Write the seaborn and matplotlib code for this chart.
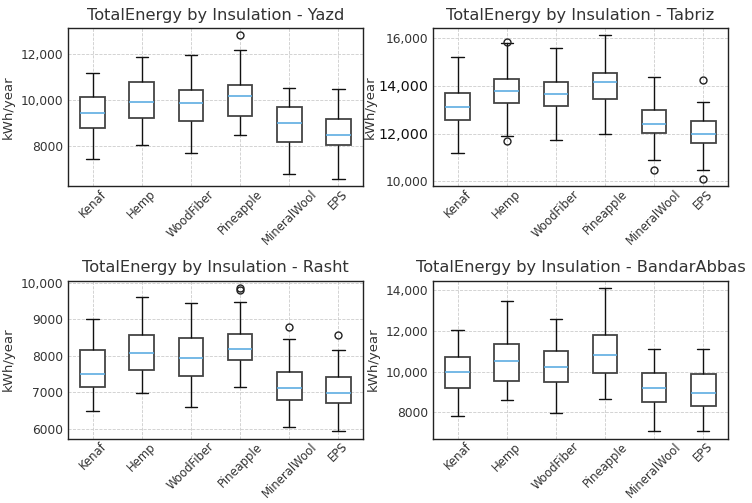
import matplotlib
matplotlib.use("Agg")
import matplotlib.pyplot as plt
from matplotlib.ticker import FuncFormatter
import seaborn as sns
import pandas as pd

insulations = ["Kenaf", "Hemp", "WoodFiber", "Pineapple", "MineralWool", "EPS"]
cities = ["Yazd", "Tabriz", "Rasht", "BandarAbbas"]

# Annual total energy (kWh/year) per insulation: whisker ends, quartiles, median, outliers
yazd_low = [7460, 8050, 7730, 8500, 6820, 6590]
yazd_q1 = [8790, 9250, 9120, 9340, 8180, 8080]
yazd_med = [9450, 9930, 9880, 10200, 9000, 8500]
yazd_q3 = [10170, 10810, 10460, 10690, 9700, 9180]
yazd_high = [11180, 11890, 11960, 12210, 10550, 10500]
yazd_out = [[], [], [], [12830], [], []]

tabriz_low = [11210, 11920, 11750, 12000, 10890, 10460]
tabriz_q1 = [12560, 13290, 13170, 13460, 12030, 11630]
tabriz_med = [13110, 13810, 13670, 14170, 12420, 12000]
tabriz_q3 = [13710, 14300, 14180, 14540, 13000, 12530]
tabriz_high = [15210, 15780, 15570, 16120, 14360, 13310]
tabriz_out = [[], [11690, 15860], [], [], [10490], [10110, 14250]]

rasht_low = [6490, 6990, 6590, 7160, 6040, 5930]
rasht_q1 = [7160, 7600, 7440, 7880, 6780, 6710]
rasht_med = [7490, 8080, 7940, 8190, 7110, 6970]
rasht_q3 = [8170, 8560, 8490, 8590, 7560, 7430]
rasht_high = [9010, 9610, 9460, 9470, 8450, 8160]
rasht_out = [[], [], [], [9810, 9860], [8800], [8580]]

bandar_low = [7800, 8580, 7990, 8660, 7060, 7090]
bandar_q1 = [9170, 9530, 9510, 9920, 8530, 8330]
bandar_med = [10000, 10510, 10250, 10800, 9180, 8970]
bandar_q3 = [10700, 11370, 11000, 11780, 9950, 9870]
bandar_high = [12020, 13450, 12560, 14110, 11130, 11130]
bandar_out = [[], [], [], [], [], []]

summaries = {
    "Yazd": (yazd_low, yazd_q1, yazd_med, yazd_q3, yazd_high, yazd_out),
    "Tabriz": (tabriz_low, tabriz_q1, tabriz_med, tabriz_q3, tabriz_high, tabriz_out),
    "Rasht": (rasht_low, rasht_q1, rasht_med, rasht_q3, rasht_high, rasht_out),
    "BandarAbbas": (bandar_low, bandar_q1, bandar_med, bandar_q3, bandar_high, bandar_out),
}


def expand(low, q1, med, q3, high, out):
    """Turn five-number summaries into samples whose box statistics reproduce them."""
    rows = []
    for i, name in enumerate(insulations):
        values = [low[i], high[i]] + list(out[i])
        values += [q1[i]] * 20 + [med[i]] * 20 + [q3[i]] * 20
        rows += [(name, v) for v in values]
    return pd.DataFrame(rows, columns=["Insulation", "TotalEnergy"])


sns.set_theme(style="white")
plt.rcParams.update({
    "font.family": ["DejaVu Sans"],
    "axes.edgecolor": "#222222",
    "axes.linewidth": 1.0,
    "xtick.direction": "in",
    "ytick.direction": "in",
    "xtick.color": "#333333",
    "ytick.color": "#333333",
    "xtick.major.size": 3,
    "ytick.major.size": 3,
    "xtick.major.pad": 1,
    "text.color": "#333333",
    "axes.labelcolor": "#333333",
})

fig, axes = plt.subplots(2, 2, figsize=(7.52, 5.03), dpi=100)
fig.subplots_adjust(left=0.0904, right=0.968, bottom=0.128, top=0.944,
                    hspace=0.6, wspace=0.237)

fmt = FuncFormatter(lambda v, p: f"{v:,.0f}" if abs(v) >= 10000 else f"{v:.0f}")

for ax, city in zip(axes.flat, cities):
    df = expand(*summaries[city])
    sns.boxplot(
        data=df, x="Insulation", y="TotalEnergy", order=insulations, ax=ax,
        width=0.5, color="white", linecolor="#444444", linewidth=1.3,
        whiskerprops=dict(color="#111111", linewidth=1.0),
        capprops=dict(color="#111111", linewidth=1.0),
        medianprops=dict(color="#5DADE2", linewidth=1.2),
        flierprops=dict(marker="o", markerfacecolor="none",
                        markeredgecolor="#222222", markersize=5, markeredgewidth=1.0),
    )
    ax.set_title(f"TotalEnergy by Insulation - {city}", fontsize=11.7, color="#333333")
    ax.set_xlabel("")
    ax.set_ylabel("kWh/year", fontsize=9.5)
    ax.yaxis.set_label_coords(-0.18, 0.5)
    ax.grid(True, linestyle="--", color="#cccccc", linewidth=0.6)
    ax.set_axisbelow(True)
    for s in ax.spines.values():
        s.set_visible(True)
    ax.yaxis.set_major_formatter(fmt)
    ax.tick_params(axis="y", labelsize=8.8)
    ax.tick_params(axis="x", labelsize=8.4, rotation=45)
    ax.margins(y=0.05)

# Tabriz tick labels: the middle two are printed larger
tab_ax = axes[0, 1]
tab_ticks = [10000, 12000, 14000, 16000]
tab_ax.set_yticks(tab_ticks)
tab_ax.set_yticklabels([fmt(t, None) for t in tab_ticks])
for t, lab in zip(tab_ticks, tab_ax.get_yticklabels()):
    if t in (12000, 14000):
        lab.set_fontsize(10.3)
        lab.set_color("#111111")
tab_ax.yaxis.set_label_coords(-0.19, 0.5)

fig.savefig("out.png", dpi=100)
